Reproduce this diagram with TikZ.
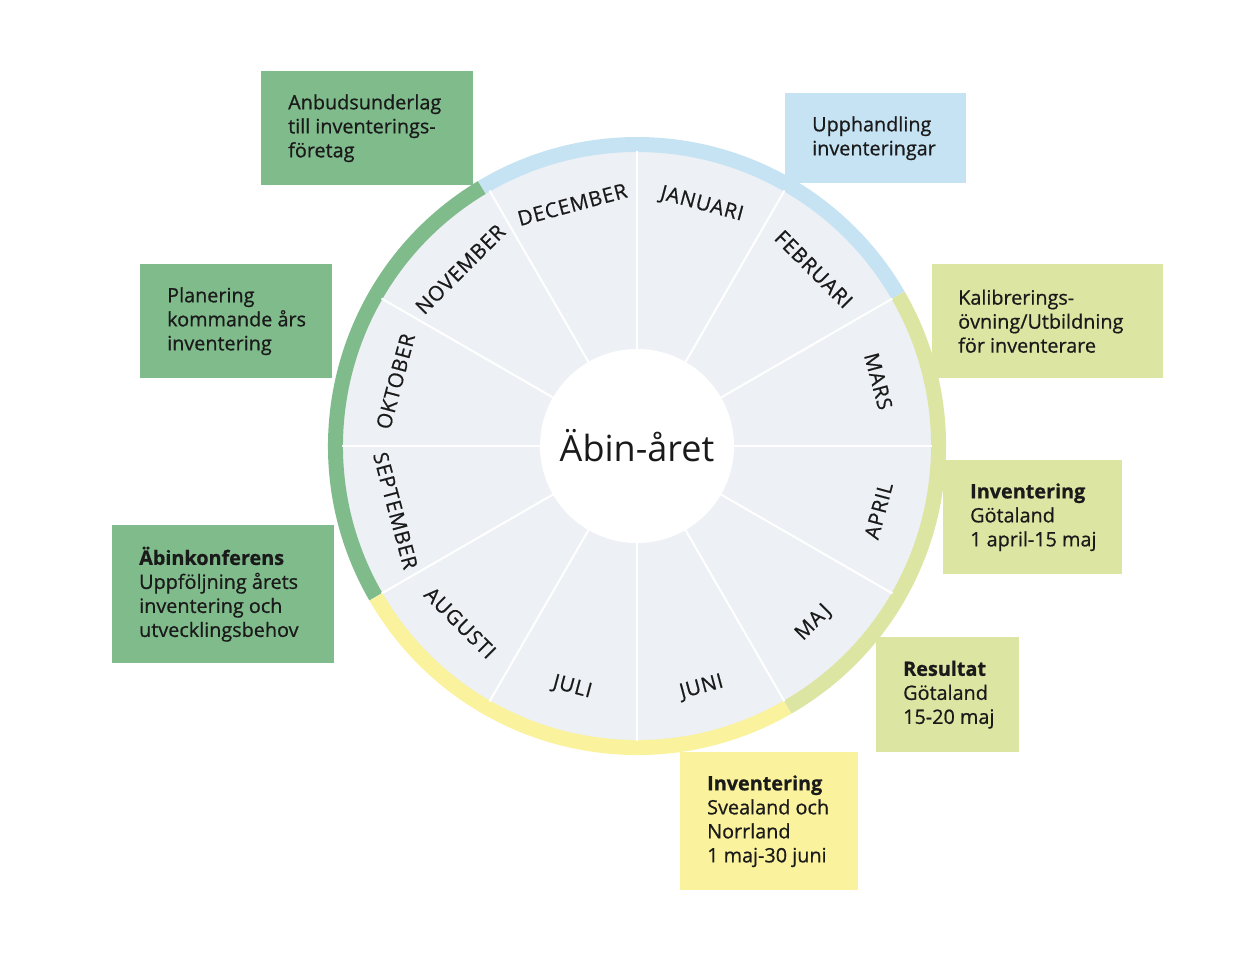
\documentclass[tikz,border=0pt]{standalone}
\usepackage{fontspec}
\setmainfont{Open Sans}
\newfontfamily\boxfont[FakeBold=0.7]{Open Sans}
\newfontfamily\monthfont[LetterSpace=4,FakeBold=0.6]{Open Sans}
\definecolor{cgreen}{HTML}{80BB8C}
\definecolor{cblue}{HTML}{C6E3F4}
\definecolor{cygreen}{HTML}{DCE5A1}
\definecolor{cyellow}{HTML}{FAF29C}
\definecolor{cdisc}{HTML}{EDF0F4}
\definecolor{ctext}{HTML}{1A1A1A}
\begin{document}
\begin{tikzpicture}[x=1pt,y=1pt,
  infobox/.style={rectangle, inner sep=0pt, anchor=north west},
  infotext/.style={inner sep=0pt, align=left, anchor=west,
    font=\boxfont\fontsize{19.8}{24}\selectfont, text=ctext},
  monthlabel/.style={font=\monthfont\fontsize{20.5}{22}\selectfont, text=ctext},
  ringarc/.style={line width=15pt}]
\useasboundingbox (0,0) rectangle (1260,-957);
% boxes
\node[infobox, fill=cgreen, minimum width=212pt, minimum height=114pt] (b1) at (261,-71) {};
\node[infotext] (t1) at ([xshift=27pt]b1.west) {Anbudsunderlag\\till inventerings-\\företag};
\node[infobox, fill=cblue, minimum width=181pt, minimum height=90pt] (b2) at (785,-93) {};
\node[infotext] (t2) at ([xshift=27pt]b2.west) {Upphandling\\inventeringar};
\node[infobox, fill=cgreen, minimum width=192pt, minimum height=114pt] (b3) at (140,-264) {};
\node[infotext] (t3) at ([xshift=27pt]b3.west) {Planering\\kommande års\\inventering};
\node[infobox, fill=cygreen, minimum width=231pt, minimum height=114pt] (b4) at (932,-264) {};
\node[infotext] (t4) at ([xshift=26pt]b4.west) {Kalibrerings-\\övning/Utbildning\\för inventerare};
\node[infobox, fill=cygreen, minimum width=179pt, minimum height=114pt] (b5) at (943,-460) {};
\node[infotext] (t5) at ([xshift=27pt]b5.west) {\textbf{Inventering}\\Götaland\\1 april-15 maj};
\node[infobox, fill=cgreen, minimum width=222pt, minimum height=138pt] (b6) at (112,-525) {};
\node[infotext] (t6) at ([xshift=27pt]b6.west) {\textbf{Äbinkonferens}\\Uppföljning årets\\inventering och\\utvecklingsbehov};
\node[infobox, fill=cygreen, minimum width=143pt, minimum height=115pt] (b7) at (876,-637) {};
\node[infotext] (t7) at ([xshift=27pt]b7.west) {\textbf{Resultat}\\Götaland\\15-20 maj};
\node[infobox, fill=cyellow, minimum width=178pt, minimum height=138pt] (b8) at (680,-752) {};
\node[infotext] (t8) at ([xshift=27pt]b8.west) {\textbf{Inventering}\\Svealand och\\Norrland\\1 maj-30 juni};
% wheel
\coordinate (C) at (637,-446);
\begin{scope}[shift={(C)}]
  \fill[cdisc] (0,0) circle[radius=295];
  \draw[ringarc, cblue] (30:301.5) arc[start angle=30, end angle=121, radius=301.5];
  \draw[ringarc, cgreen] (121:301.5) arc[start angle=121, end angle=210, radius=301.5];
  \draw[ringarc, cyellow] (210:301.5) arc[start angle=210, end angle=300, radius=301.5];
  \draw[ringarc, cygreen] (300:301.5) arc[start angle=300, end angle=390, radius=301.5];
  \foreach \a in {0,30,...,330} \draw[white, line width=2pt] (\a:90) -- (\a:295);
  \fill[white] (0,0) circle[radius=97];
  \node[font=\fontsize{36}{40}\selectfont, text=ctext] (title) at (0,0) {Äbin-året};
  \node[monthlabel, rotate=-15] (jan) at (75:250) {JANUARI};
  \node[monthlabel, rotate=-45] (feb) at (45:250) {FEBRUARI};
  \node[monthlabel, rotate=-75] (mar) at (15:250) {MARS};
  \node[monthlabel, rotate=75] (apr) at (-15:250) {APRIL};
  \node[monthlabel, rotate=45] (maj) at (-45:250) {MAJ};
  \node[monthlabel, rotate=15] (jun) at (-75:250) {JUNI};
  \node[monthlabel, rotate=-15] (jul) at (-105:250) {JULI};
  \node[monthlabel, rotate=-45] (aug) at (-135:250) {AUGUSTI};
  \node[monthlabel, rotate=-75] (sep) at (-165:250) {SEPTEMBER};
  \node[monthlabel, rotate=75] (okt) at (165:250) {OKTOBER};
  \node[monthlabel, rotate=45] (nov) at (135:250) {NOVEMBER};
  \node[monthlabel, rotate=15] (dec) at (105:250) {DECEMBER};
\end{scope}
\end{tikzpicture}
\end{document}
